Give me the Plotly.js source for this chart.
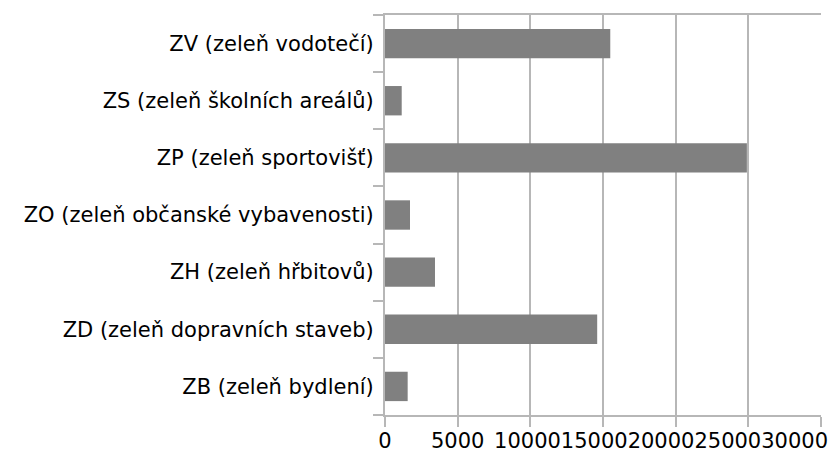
<!DOCTYPE html>
<html>
<head>
<meta charset="utf-8">
<script src="https://cdn.plot.ly/plotly-3.0.1.min.js"></script>
<style>
  html, body { margin: 0; padding: 0; background: #fff; }
  #plot { width: 829px; height: 454px; }
</style>
</head>
<body>
<div id="plot"></div>
<script>
// categories listed bottom to top, as plotly draws them
const categories = [
    'ZB (zeleň bydlení)',
    'ZD (zeleň dopravních staveb)',
    'ZH (zeleň hřbitovů)',
    'ZO (zeleň občanské vybavenosti)',
    'ZP (zeleň sportovišť)',
    'ZS (zeleň školních areálů)',
    'ZV (zeleň vodotečí)'
];
const values = [1560, 14600, 3440, 1720, 24900, 1150, 15500];

const tickValues = [0, 5000, 10000, 15000, 20000, 25000, 30000];
const tickLabels = ['0', '5000', '10000', '15000', '20000', '25000', '30000'];

const xMax = 30000;
const plotWidthPx = 436;
const fontSize = 21;
const gridColor = '#b7b7b7';

// Excel pushes the crowded labels left so they fit inside the chart:
// pack them right to left, each label as wide as its text.
function packLabels(ticks, labels) {
    const perPx = xMax / plotWidthPx;
    const rightLimit = xMax + 7 * perPx;
    const centers = new Array(ticks.length);
    let nextLeft = rightLimit;
    for (let i = ticks.length - 1; i >= 0; i--) {
        const w = labels[i].length * 0.636 * fontSize * perPx;
        const c = Math.min(ticks[i], nextLeft - w / 2);
        centers[i] = c;
        nextLeft = c - w / 2;
    }
    return centers;
}

const labelCenters = packLabels(tickValues, tickLabels);

const font = { family: 'DejaVu Sans', size: fontSize, color: '#000' };

const trace = {
    type: 'bar',
    orientation: 'h',
    x: values,
    y: categories,
    marker: { color: '#808080' },
    hoverinfo: 'x+y'
};

// invisible helper so the label axis gets drawn
const labelTrace = {
    type: 'scatter',
    mode: 'markers',
    x: [0],
    y: [categories[0]],
    xaxis: 'x2',
    marker: { opacity: 0 },
    hoverinfo: 'skip',
    showlegend: false
};

Plotly.newPlot('plot', [trace, labelTrace], {
    width: 829,
    height: 454,
    margin: { l: 385, r: 8, t: 15, b: 39 },
    paper_bgcolor: '#fff',
    plot_bgcolor: '#fff',
    font: font,
    showlegend: false,
    bargap: 0.486,
    xaxis: {
        range: [0, xMax],
        tickmode: 'array',
        tickvals: tickValues,
        showticklabels: false,
        showgrid: true,
        gridcolor: gridColor,
        gridwidth: 2,
        zeroline: false,
        showline: true,
        mirror: true,
        linecolor: gridColor,
        linewidth: 2,
        ticks: 'outside',
        ticklen: 10,
        tickwidth: 2,
        tickcolor: gridColor,
        fixedrange: true
    },
    xaxis2: {
        overlaying: 'x',
        anchor: 'y',
        side: 'bottom',
        range: [0, xMax],
        tickmode: 'array',
        tickvals: labelCenters,
        ticktext: tickLabels,
        tickangle: 0,
        ticklabeloverflow: 'allow',
        showgrid: false,
        zeroline: false,
        showline: false,
        ticks: 'outside',
        ticklen: 7,
        tickcolor: 'rgba(0,0,0,0)',
        tickfont: font,
        fixedrange: true
    },
    yaxis: {
        type: 'category',
        categoryorder: 'array',
        categoryarray: categories,
        tickson: 'boundaries',
        ticks: 'outside',
        ticklen: 10,
        tickwidth: 2,
        tickcolor: gridColor,
        showline: true,
        linecolor: gridColor,
        linewidth: 2,
        showgrid: false,
        zeroline: false,
        tickfont: font,
        ticklabelstandoff: 5,
        fixedrange: true
    }
}, { displayModeBar: false, staticPlot: true });
</script>
</body>
</html>
